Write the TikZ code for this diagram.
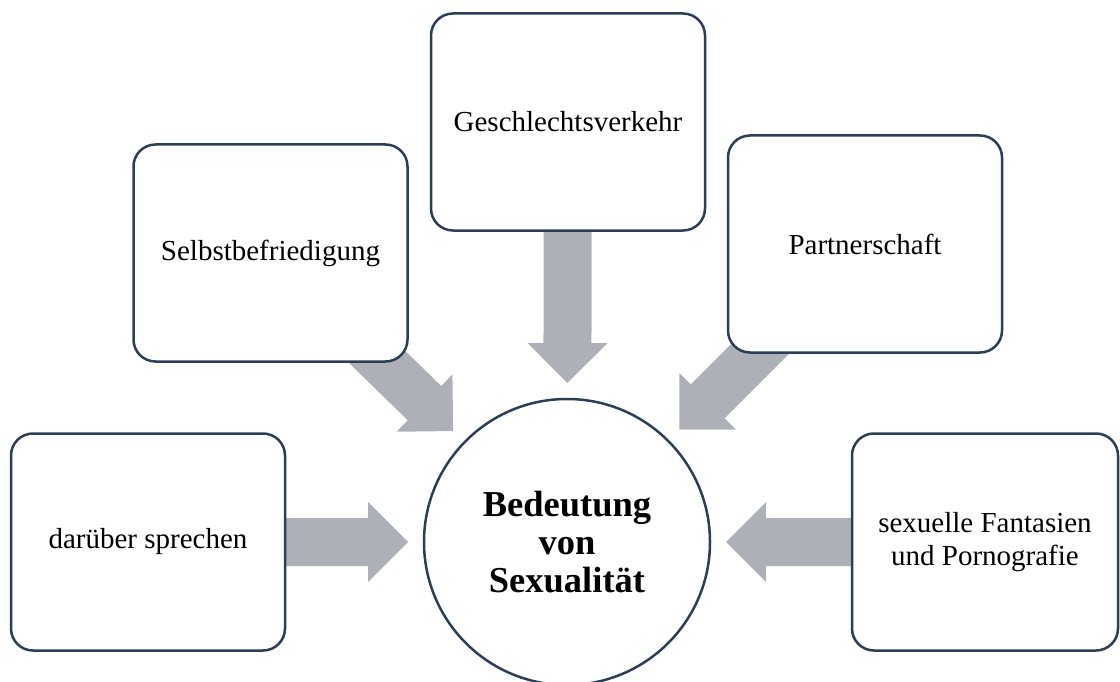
\documentclass[tikz,border=0pt]{standalone}
\usepackage{fontspec}
\setmainfont{Liberation Serif}
\usetikzlibrary{calc,backgrounds}
\definecolor{arrowfill}{HTML}{ADB0B6}
\definecolor{boxline}{HTML}{2C3E57}
% #1 start point, #2 tip point, #3 name prefix for helper coordinate
\newcommand\blockarrow[3]{%
  \coordinate (#3h) at ($(#2)!40pt!(#1)$);
  \fill[arrowfill] ($(#1)!24pt!90:(#2)$) -- ($(#3h)!24pt!-90:(#1)$) -- ($(#3h)!40pt!-90:(#1)$)
     -- (#2) -- ($(#3h)!40pt!90:(#1)$) -- ($(#3h)!24pt!90:(#1)$) -- ($(#1)!24pt!-90:(#2)$) -- cycle;
}
\tikzset{
  topic/.style={draw=boxline, line width=2.5pt, rounded corners=22pt, fill=white,
    minimum width=274pt, minimum height=217pt, align=center, inner sep=0pt,
    font=\fontsize{29}{33}\selectfont},
  hub/.style={circle, draw=boxline, line width=2.5pt, fill=white, minimum size=286pt,
    align=center, inner sep=0pt, font=\bfseries\fontsize{36.5}{38}\selectfont}
}
\begin{document}
\begin{tikzpicture}[x=1pt,y=-1pt]
\useasboundingbox (0,0) rectangle (1120,682);
\node[hub] (c) at (567,542) {Bedeutung\\von\\Sexualität};
\node[topic] (b1) at (148,542) {darüber sprechen};
\node[topic] (b2) at (270.5,253) {Selbstbefriedigung};
\node[topic] (b3) at (568,122) {Geschlechtsverkehr};
\node[topic] (b4) at (865,244) {Partnerschaft};
\node[topic, minimum width=266pt] (b5) at (985,542) {sexuelle Fantasien\\und Pornografie};
\foreach \b in {b1,b2,b3,b4,b5}{
  \coordinate (t\b) at ($(c.center)!159pt!(\b.center)$);
}
\begin{pgfonlayer}{background}
\blockarrow{b1.center}{tb1}{a1}
\blockarrow{b2.center}{tb2}{a2}
\blockarrow{b3.center}{tb3}{a3}
\blockarrow{b4.center}{tb4}{a4}
\blockarrow{b5.center}{tb5}{a5}
\end{pgfonlayer}
\end{tikzpicture}
\end{document}
